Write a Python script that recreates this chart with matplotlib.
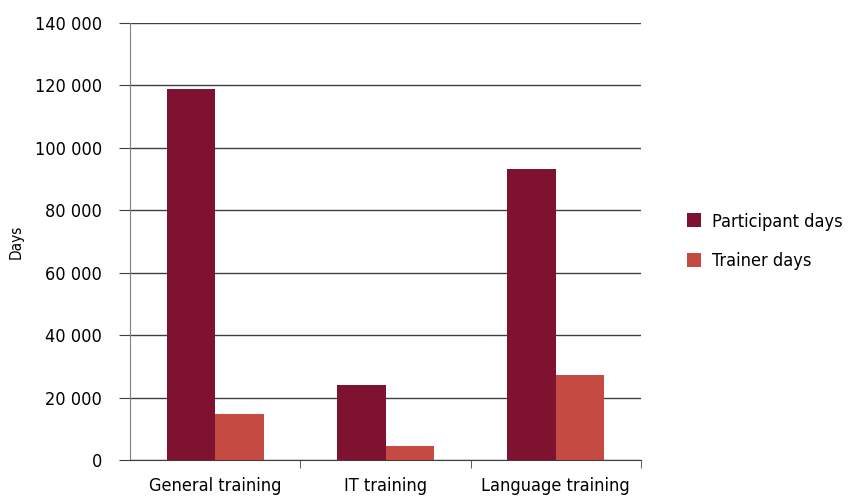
import matplotlib.pyplot as plt
import numpy as np
from matplotlib.ticker import FuncFormatter

categories = ['General training', 'IT training', 'Language training']
participant_days = [119000, 24000, 93300]
trainer_days = [14800, 4500, 27200]
series_names = ['Participant days', 'Trainer days']
colors = ['#7f1230', '#c44a42']

plt.rcParams['font.family'] = ['DejaVu Sans']
plt.rcParams['font.stretch'] = 'condensed'

fig = plt.figure(figsize=(8.48, 4.98), dpi=100)
ax = fig.add_axes([0.1533, 0.0763, 0.6026, 0.8775])

x = np.arange(len(categories))
w = 0.285
ax.bar(x - w / 2, participant_days, w, color=colors[0], label=series_names[0], zorder=3)
ax.bar(x + w / 2, trainer_days, w, color=colors[1], label=series_names[1], zorder=3)

ax.set_xlim(-0.5, 2.5)
ax.set_ylim(0, 140000)
ax.set_yticks(np.arange(0, 140001, 20000))
ax.yaxis.set_major_formatter(FuncFormatter(lambda v, p: f'{int(v):,}'.replace(',', ' ')))
ax.yaxis.grid(True, color='#404040', linewidth=1.0, zorder=0)

# category labels centred, ticks at boundaries
ax.set_xticks(x)
ax.set_xticklabels(categories, fontsize=13)
ax.tick_params(axis='x', length=0, pad=12)
ax.set_xticks([0.5, 1.5, 2.5], minor=True)
ax.tick_params(axis='x', which='minor', length=6, color='#404040', direction='out')

ax.tick_params(axis='y', labelsize=13, length=8, color='#404040', pad=12)
ax.set_ylabel('Days', fontsize=11, labelpad=8)

for s in ['top', 'right']:
    ax.spines[s].set_visible(False)
ax.spines['left'].set_color('#808080')
ax.spines['bottom'].set_color('#404040')

ax.legend(loc='center left', bbox_to_anchor=(1.075, 0.50), frameon=False,
          fontsize=13, handlelength=0.8, handleheight=0.8, labelspacing=1.2,
          handletextpad=0.6, borderaxespad=0.0)

fig.savefig('out.png', dpi=100)
